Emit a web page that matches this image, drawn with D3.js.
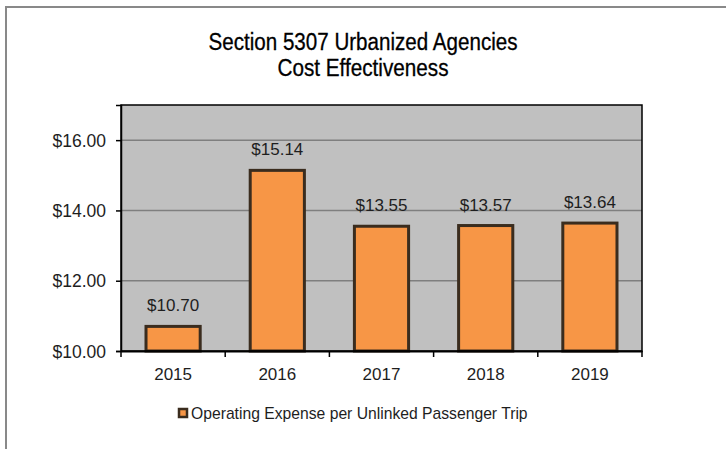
<!DOCTYPE html>
<html>
<head>
<meta charset="utf-8">
<script src="https://cdn.jsdelivr.net/npm/d3@7"></script>
<style>
  html, body { margin: 0; padding: 0; background: #fff; }
  svg { display: block; }
</style>
</head>
<body>
<svg id="chart" width="726" height="449"></svg>
<script>
const categories = ["2015", "2016", "2017", "2018", "2019"];
const values = [10.70, 15.14, 13.55, 13.57, 13.64];
const valueLabels = ["$10.70", "$15.14", "$13.55", "$13.57", "$13.64"];
const yTicks = [10, 12, 14, 16];
const titleLines = ["Section 5307 Urbanized Agencies", "Cost Effectiveness"];
const titleWidths = [309, 171];
const seriesName = "Operating Expense per Unlinked Passenger Trip";

const svg = d3.select("#chart");
const W = 726, H = 449;
const plot = { left: 121, right: 642, top: 105, bottom: 351 };
const FONT = "'Liberation Sans', Arial, sans-serif";

// outer frame (only top and left visible)
svg.append("path")
  .attr("d", `M6,${H} L6,7 L${W},7`)
  .attr("fill", "none").attr("stroke", "#898989").attr("stroke-width", 2);

// title (condensed look)
svg.append("g").selectAll("text").data(titleLines).join("text")
  .attr("x", 363).attr("y", (d, i) => 50 + i * 26)
  .attr("text-anchor", "middle")
  .attr("font-family", FONT)
  .attr("font-size", 23)
  .attr("fill", "#000").attr("stroke", "#000").attr("stroke-width", 0.3)
  .attr("textLength", (d, i) => titleWidths[i])
  .attr("lengthAdjust", "spacingAndGlyphs")
  .text(d => d);

const x = d3.scaleBand().domain(categories).range([plot.left, plot.right]).paddingInner(0.48).paddingOuter(0.24);
const xb = d3.scaleBand().domain(categories).range([plot.left, plot.right]);
const y = d3.scaleLinear().domain([10, 17]).range([plot.bottom, plot.top]);

// plot background
svg.append("rect")
  .attr("x", plot.left).attr("y", plot.top)
  .attr("width", plot.right - plot.left).attr("height", plot.bottom - plot.top)
  .attr("fill", "#c0c0c0");

// gridlines
svg.append("g").selectAll("line").data(yTicks.filter(t => t > 10)).join("line")
  .attr("x1", plot.left).attr("x2", plot.right)
  .attr("y1", d => y(d)).attr("y2", d => y(d))
  .attr("stroke", "#7f7f7f").attr("stroke-width", 1.5);

// bars
svg.append("g").selectAll("rect").data(values).join("rect")
  .attr("x", (d, i) => x(categories[i]))
  .attr("y", d => y(d))
  .attr("width", x.bandwidth())
  .attr("height", d => y(10) - y(d))
  .attr("fill", "#f79646")
  .attr("stroke", "#3a2c1e").attr("stroke-width", 3);

// value labels
svg.append("g").selectAll("text").data(values).join("text")
  .attr("x", (d, i) => xb(categories[i]) + xb.bandwidth() / 2)
  .attr("y", d => y(d) - 15)
  .attr("text-anchor", "middle")
  .attr("font-family", FONT)
  .attr("font-size", 17).attr("fill", "#1e1e1e")
  .text((d, i) => valueLabels[i]);

// plot border
svg.append("rect")
  .attr("x", plot.left).attr("y", plot.top)
  .attr("width", plot.right - plot.left).attr("height", plot.bottom - plot.top)
  .attr("fill", "none").attr("stroke", "#000").attr("stroke-width", 1.5);

// y axis
const yAxis = d3.axisLeft(y).tickValues(yTicks).tickSize(5).tickPadding(10)
  .tickFormat(d => "$" + d3.format(".2f")(d));
const gy = svg.append("g").attr("transform", `translate(${plot.left},0)`).call(yAxis);
gy.select(".domain").attr("stroke", "#000").attr("stroke-width", 1.5);
gy.selectAll(".tick line").attr("stroke", "#000").attr("stroke-width", 1.5);
gy.selectAll(".tick text").attr("font-family", FONT)
  .attr("font-size", 17.5).attr("fill", "#1e1e1e").attr("dy", "0.35em");

// x axis
const xAxis = d3.axisBottom(xb).tickSize(0).tickPadding(17);
const gx = svg.append("g").attr("transform", `translate(0,${plot.bottom})`).call(xAxis);
gx.select(".domain").attr("stroke", "#000").attr("stroke-width", 2);
gx.selectAll(".tick text").attr("font-family", FONT)
  .attr("font-size", 17).attr("fill", "#1e1e1e").attr("dy", "0.71em");
// category boundary tick marks
const bounds = categories.map(c => xb(c)).concat([plot.right]);
svg.append("g").selectAll("line").data(bounds).join("line")
  .attr("x1", d => d).attr("x2", d => d)
  .attr("y1", plot.bottom).attr("y2", plot.bottom + 6)
  .attr("stroke", "#000").attr("stroke-width", 1.5);

// legend
const lg = svg.append("g").attr("transform", "translate(179,413)");
lg.append("rect").attr("x", 0).attr("y", -4).attr("width", 8).attr("height", 8)
  .attr("fill", "#f79646").attr("stroke", "#3a2c1e").attr("stroke-width", 2.5);
lg.append("text").attr("x", 12).attr("y", 0).attr("dy", "0.35em")
  .attr("font-family", FONT)
  .attr("font-size", 15.7).attr("fill", "#1e1e1e")
  .text(seriesName);
</script>
</body>
</html>
